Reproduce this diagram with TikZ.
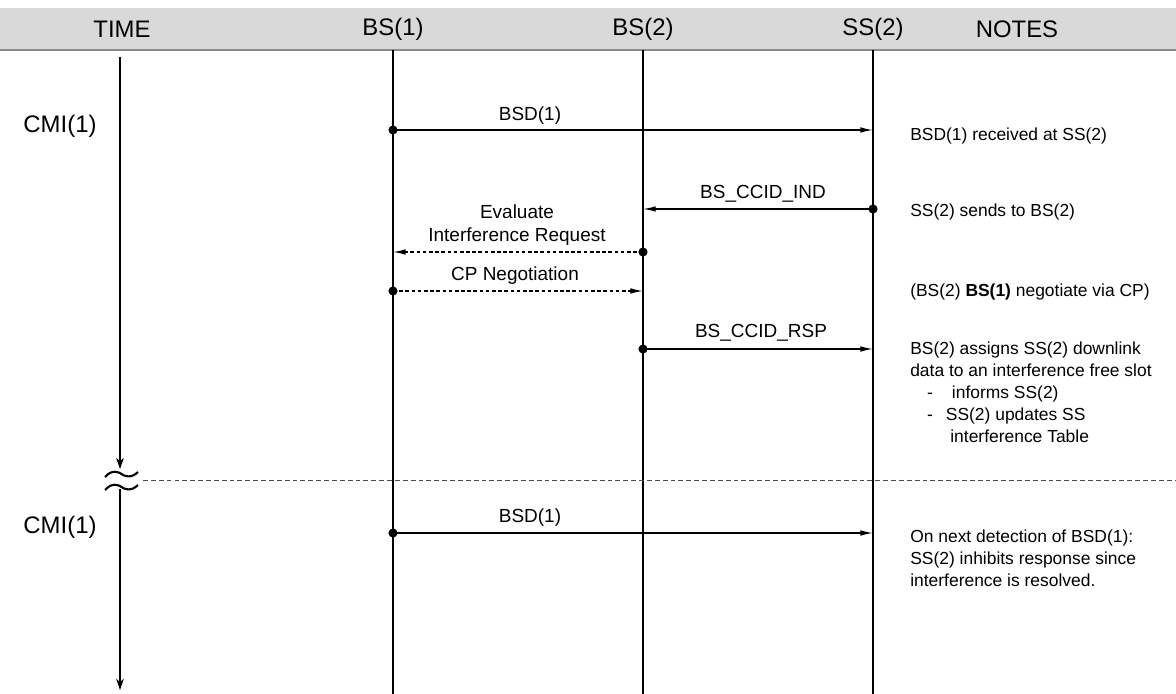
\documentclass[tikz,border=0pt]{standalone}
\usepackage{fontspec}
\setmainfont{Liberation Sans}
\usetikzlibrary{arrows.meta,positioning,calc}

\begin{document}
\begin{tikzpicture}[
    x=0.025cm, y=-0.025cm,
    head/.style={font=\fontsize{17}{20}\selectfont, inner sep=0pt},
    tlabel/.style={font=\fontsize{17}{20}\selectfont, inner sep=0pt},
    msglabel/.style={font=\fontsize{13.5}{16}\selectfont, inner sep=0pt, align=center},
    note/.style={font=\fontsize{12.4}{15.6}\selectfont, inner sep=0pt, align=left, anchor=west},
    life/.style={line width=0.9pt},
    timeaxis/.style={line width=0.9pt, -{Stealth[length=8pt, width=5.5pt, inset=2.5pt]}},
    msg/.style={line width=1pt, -{Latex[length=9pt, width=4pt]}},
    negmsg/.style={msg, dash pattern=on 2.6pt off 1.8pt},
    dot/.style={circle, fill, inner sep=0pt, minimum size=6.5pt},
    sep/.style={line width=0.6pt, black!70, dash pattern=on 3.4pt off 2.2pt}
]
    \useasboundingbox (0,0) rectangle (1176,694);

    % header bar
    \fill [black!15] (0,8) rectangle (1176,50);
    \draw [black!45, line width=0.8pt] (0,50) -- (1176,50);

    \node [head] (time) at (122,29) {TIME};
    \node [head] (bs1) at (393,29) {BS(1)};
    \node [head] (bs2) at (643,29) {BS(2)};
    \node [head] (ss2) at (873,29) {SS(2)};
    \node [head] (notes) at (1017,29) {NOTES};

    % lifelines
    \foreach \n/\x in {bs1/393, bs2/643, ss2/873} {
        \coordinate (\n-t) at (\x,50);
        \coordinate (\n-b) at (\x,694);
        \draw [life] (\n-t) -- (\n-b);
    }

    % time axis with break
    \coordinate (t0) at (120,57);
    \coordinate (t1) at (120,469);
    \coordinate (t2) at (120,489);
    \coordinate (t3) at (120,690);
    \draw [timeaxis] (t0) -- (t1);
    \draw [timeaxis] (t2) -- (t3);
    \draw [line width=1.5pt] (105,477) .. controls (112,469) and (119,472) .. (121.5,474)
        .. controls (124,476) and (131,479) .. (138,472);
    \draw [line width=1.5pt] (105,490) .. controls (112,482) and (119,485) .. (121.5,487)
        .. controls (124,489) and (131,492) .. (138,485);

    \coordinate (sepL) at (143,480);
    \coordinate (sepR) at (1176,480);
    \draw [sep] (sepL) -- (sepR);

    \node [tlabel] (cmi1) at (60,126) {CMI(1)};
    \node [tlabel] (cmi2) at (60,527) {CMI(1)};

    % messages
    \node [dot] (d1) at (393,130) {};
    \coordinate (e1) at (873,130);
    \draw [msg] (d1.center) -- (e1);
    \node [msglabel] (l1) at (530,116) {BSD(1)};

    \node [dot] (d2) at (873,209) {};
    \coordinate (e2) at (643,209);
    \draw [msg] (d2.center) -- (e2);
    \node [msglabel] (l2) at (763,194) {BS\_CCID\_IND};

    \node [dot] (d3) at (643,252) {};
    \coordinate (e3) at (393,252);
    \draw [negmsg] (d3.center) -- (e3);
    \node [msglabel] (l3) at (517,225) {Evaluate\\Interference Request};

    \node [dot] (d4) at (393,291) {};
    \coordinate (e4) at (643,291);
    \draw [negmsg] (d4.center) -- (e4);
    \node [msglabel] (l4) at (515,276) {CP Negotiation};

    \node [dot] (d5) at (643,349) {};
    \coordinate (e5) at (873,349);
    \draw [msg] (d5.center) -- (e5);
    \node [msglabel] (l5) at (761,333) {BS\_CCID\_RSP};

    \node [dot] (d6) at (393,533) {};
    \coordinate (e6) at (873,533);
    \draw [msg] (d6.center) -- (e6);
    \node [msglabel] (l6) at (530,518) {BSD(1)};

    % notes
    \node [note] (n1) at (910,136) {BSD(1) received at SS(2)};
    \node [note] (n2) at (910,212) {SS(2) sends to BS(2)};
    \node [note] (n3) at (910,292) {(BS(2) \textbf{BS(1)} negotiate via CP)};
    \node [note, anchor=north west] (n4) at (910,342) {BS(2) assigns SS(2) downlink\\
        data to an interference free slot\\
        \hspace*{12pt}-\hspace*{13.5pt}informs SS(2)\\
        \hspace*{12pt}-\hspace*{9.2pt}SS(2) updates SS\\
        \hspace*{28.5pt}interference Table};
    \node [note, anchor=north west] (n5) at (910,530) {On next detection of BSD(1):\\
        SS(2) inhibits response since\\
        interference is resolved.};
\end{tikzpicture}
\end{document}
